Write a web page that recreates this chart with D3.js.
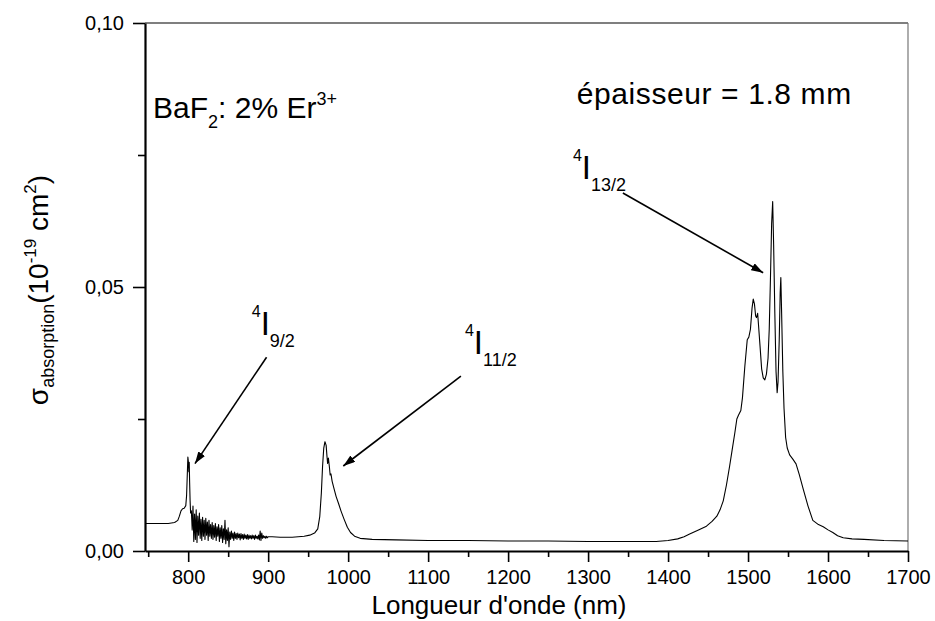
<!DOCTYPE html>
<html>
<head>
<meta charset="utf-8">
<script src="https://cdn.jsdelivr.net/npm/d3@7"></script>
<style>
  body { margin: 0; background: #fff; }
  svg { display: block; font-family: Arial, "Liberation Sans", sans-serif; }
</style>
</head>
<body>
<div id="content"></div>
<script>
// absorption spectrum
var band800Nm = [746, 760, 775, 783, 787, 789, 791, 793, 795, 797, 798, 799, 799.6, 800.2, 800.8, 801.3, 801.8, 802.4, 803];
var band800Sigma = [0.0052, 0.0052, 0.0052, 0.0054, 0.0058, 0.0066, 0.0076, 0.0080, 0.0081, 0.0086, 0.0105, 0.0150, 0.0178, 0.0170, 0.0150, 0.0168, 0.0130, 0.0095, 0.0072];

// noisy part 804..900 nm, one value per nm
var noiseStartNm = 804;
var noiseSigma = [
  0.0076, 0.0040, 0.0085, 0.0018, 0.0070, 0.0022, 0.0078, 0.0016, 0.0066, 0.0030,
  0.0072, 0.0024, 0.0060, 0.0020, 0.0064, 0.0028, 0.0058, 0.0022, 0.0062, 0.0030,
  0.0055, 0.0020, 0.0058, 0.0028, 0.0050, 0.0024, 0.0054, 0.0022, 0.0048, 0.0026,
  0.0052, 0.0020, 0.0046, 0.0028, 0.0050, 0.0018, 0.0044, 0.0024, 0.0048, 0.0016,
  0.0042, 0.0022, 0.0058, 0.0014, 0.0040, 0.0020, 0.0044, 0.0008, 0.0036, 0.0022,
  0.0038, 0.0024, 0.0034, 0.0020, 0.0036, 0.0024, 0.0033, 0.0022, 0.0034, 0.0025,
  0.0032, 0.0021, 0.0033, 0.0024, 0.0031, 0.0022, 0.0032, 0.0024, 0.0030, 0.0023,
  0.0031, 0.0022, 0.0030, 0.0024, 0.0029, 0.0023, 0.0030, 0.0024, 0.0029, 0.0022,
  0.0030, 0.0024, 0.0028, 0.0023, 0.0030, 0.0021, 0.0038, 0.0020, 0.0034, 0.0024,
  0.0029, 0.0025, 0.0028, 0.0024, 0.0028, 0.0025, 0.0027
];

var band980Nm = [905, 915, 930, 945, 952, 958, 962, 964.5, 966.5, 968, 969.5, 971, 972.5, 973.5, 974.3, 975.3, 976.5, 977.5, 978.5, 980, 982, 985, 988, 991, 995, 999, 1003, 1008, 1015, 1030, 1060, 1100, 1150, 1200, 1250, 1300, 1350, 1385, 1400, 1412, 1420];
var band980Sigma = [0.0027, 0.0026, 0.0026, 0.0028, 0.0030, 0.0034, 0.0042, 0.0065, 0.0110, 0.0160, 0.0195, 0.0207, 0.0200, 0.0180, 0.0166, 0.0176, 0.0160, 0.0144, 0.0146, 0.0132, 0.0120, 0.0103, 0.0090, 0.0076, 0.0060, 0.0045, 0.0035, 0.0028, 0.0024, 0.0022, 0.0021, 0.0020, 0.0020, 0.0019, 0.0019, 0.0018, 0.0018, 0.0018, 0.0020, 0.0023, 0.0027];

var band1530Nm = [1427, 1438, 1448, 1455, 1461, 1465, 1469, 1473, 1477, 1480, 1483.5, 1486, 1488, 1491, 1493, 1496, 1499, 1501, 1503, 1505, 1506.5, 1508, 1509.5, 1510.5, 1512, 1513, 1515, 1517, 1519, 1521, 1523, 1525, 1526.5, 1528, 1529.5, 1530.8, 1532, 1533.5, 1535, 1536.4, 1537.5, 1539, 1540.2, 1541, 1542, 1543.5, 1545, 1547, 1549, 1552, 1556, 1560, 1564, 1569, 1575, 1581, 1588, 1594, 1600, 1606, 1612, 1619, 1630, 1645, 1670, 1700];
var band1530Sigma = [0.0032, 0.0040, 0.0047, 0.0056, 0.0066, 0.0078, 0.0095, 0.0125, 0.0161, 0.0190, 0.0224, 0.0250, 0.0257, 0.0266, 0.0290, 0.0350, 0.0400, 0.0405, 0.0420, 0.0460, 0.0477, 0.0468, 0.0445, 0.0442, 0.0450, 0.0430, 0.0388, 0.0345, 0.0328, 0.0324, 0.0335, 0.0365, 0.0420, 0.0515, 0.0620, 0.0662, 0.0580, 0.0450, 0.0340, 0.0300, 0.0320, 0.0400, 0.0490, 0.0518, 0.0450, 0.0340, 0.0270, 0.0215, 0.0195, 0.0182, 0.0174, 0.0165, 0.0145, 0.0117, 0.0085, 0.0058, 0.0050, 0.0046, 0.0040, 0.0035, 0.0029, 0.0025, 0.0023, 0.0022, 0.0020, 0.0019];

var xMajorTicks = [800, 900, 1000, 1100, 1200, 1300, 1400, 1500, 1600, 1700];
var xMinorTicks = [750, 850, 950, 1050, 1150, 1250, 1350, 1450, 1550, 1650];
var yMajorTicks = [0, 0.05, 0.10];
var yMinorTicks = [0.025, 0.075];

// transition labels (sub index), label position, arrow start and tip, in data units
var levelNames = ["9/2", "11/2", "13/2"];
var levelLabelAt = [[879.5, 0.0409], [1146, 0.0373], [1281, 0.0704]];
var arrowFrom = [[898, 0.0367], [1141, 0.0331], [1343.5, 0.0678]];
var arrowTo = [[808.5, 0.01655], [993.9, 0.0161], [1518.9, 0.0527]];

function main() {
	var width = 935, height = 621;
	var margin = { top: 23, right: 27, bottom: 70, left: 145 };

	var svg = d3.select("#content").append("svg")
		.attr("width", width)
		.attr("height", height);

	svg.append("rect").attr("width", width).attr("height", height).attr("fill", "white");

	var x = d3.scaleLinear().domain([746, 1700]).range([margin.left, width - margin.right]);
	var y = d3.scaleLinear().domain([0, 0.10]).range([height - margin.bottom, margin.top]);

	// build the full spectrum
	var spectrum = [];
	band800Nm.forEach(function (w, i) { spectrum.push([w, band800Sigma[i]]); });
	noiseSigma.forEach(function (s, i) { spectrum.push([noiseStartNm + i, s]); });
	band980Nm.forEach(function (w, i) { spectrum.push([w, band980Sigma[i]]); });
	band1530Nm.forEach(function (w, i) { spectrum.push([w, band1530Sigma[i]]); });

	// frame: thin top and right lines
	svg.append("line")
		.attr("x1", x(746)).attr("x2", x(1700))
		.attr("y1", y(0.10)).attr("y2", y(0.10))
		.attr("stroke", "black").attr("stroke-width", 1.2);
	svg.append("line")
		.attr("x1", x(1700)).attr("x2", x(1700))
		.attr("y1", y(0.10)).attr("y2", y(0))
		.attr("stroke", "#777").attr("stroke-width", 1.2);

	var line = d3.line()
		.x(function (d) { return x(d[0]); })
		.y(function (d) { return y(d[1]); });

	svg.append("path")
		.datum(spectrum)
		.attr("fill", "none")
		.attr("stroke", "black")
		.attr("stroke-width", 1.1)
		.attr("stroke-linejoin", "round")
		.attr("d", line);

	var fmt = function (d) { return d3.format(".2f")(d).replace(".", ","); };

	// x axis
	var gx = svg.append("g")
		.attr("transform", "translate(0," + y(0) + ")")
		.call(d3.axisBottom(x).tickValues(xMajorTicks).tickFormat(d3.format("d")).tickSize(11).tickPadding(8).tickSizeOuter(0));
	gx.select(".domain").attr("stroke-width", 2.2);
	gx.selectAll(".tick line").attr("stroke-width", 1.6);
	gx.selectAll("text").attr("font-size", 20).attr("font-family", null);

	var gxm = svg.append("g")
		.attr("transform", "translate(0," + y(0) + ")")
		.call(d3.axisBottom(x).tickValues(xMinorTicks).tickSize(6).tickFormat("").tickSizeOuter(0));
	gxm.select(".domain").remove();
	gxm.selectAll(".tick line").attr("stroke-width", 1.6);

	// y axis
	var gy = svg.append("g")
		.attr("transform", "translate(" + x(746) + ",0)")
		.call(d3.axisLeft(y).tickValues(yMajorTicks).tickFormat(fmt).tickSize(12).tickPadding(9).tickSizeOuter(0));
	gy.select(".domain").attr("stroke-width", 2.2);
	gy.selectAll(".tick line").attr("stroke-width", 1.6);
	gy.selectAll("text").attr("font-size", 20).attr("font-family", null);

	var gym = svg.append("g")
		.attr("transform", "translate(" + x(746) + ",0)")
		.call(d3.axisLeft(y).tickValues(yMinorTicks).tickSize(7).tickFormat("").tickSizeOuter(0));
	gym.select(".domain").remove();
	gym.selectAll(".tick line").attr("stroke-width", 1.6);

	// axis titles
	svg.append("text")
		.attr("x", 499).attr("y", 614)
		.attr("text-anchor", "middle")
		.attr("font-size", 26)
		.text("Longueur d'onde (nm)");

	var yt = svg.append("text")
		.attr("transform", "translate(48,290) rotate(-90)")
		.attr("text-anchor", "middle")
		.attr("font-size", 28);
	yt.append("tspan").text("σ");
	yt.append("tspan").attr("font-size", 18).attr("dy", 6).text("absorption");
	yt.append("tspan").attr("dy", -6).text("(10");
	yt.append("tspan").attr("font-size", 17).attr("dy", -12).text("-19");
	yt.append("tspan").attr("dy", 12).text(" cm");
	yt.append("tspan").attr("font-size", 17).attr("dy", -12).text("2");
	yt.append("tspan").attr("dy", 12).text(")");

	// sample labels
	var t1 = svg.append("text")
		.attr("x", x(756)).attr("y", y(0.0821))
		.attr("font-size", 30);
	t1.append("tspan").text("BaF");
	t1.append("tspan").attr("font-size", 18).attr("dy", 10).text("2");
	t1.append("tspan").attr("dy", -10).text(": 2% Er");
	t1.append("tspan").attr("font-size", 18).attr("dy", -13).text("3+");

	svg.append("text")
		.attr("x", x(1285.75)).attr("y", y(0.0846))
		.attr("font-size", 30)
		.attr("letter-spacing", 0.6)
		.text("épaisseur = 1.8 mm");

	// arrow head
	svg.append("defs").append("marker")
		.attr("id", "head")
		.attr("viewBox", "0 0 12 8")
		.attr("refX", 12).attr("refY", 4)
		.attr("markerWidth", 12).attr("markerHeight", 8)
		.attr("markerUnits", "userSpaceOnUse")
		.attr("orient", "auto")
		.append("path")
		.attr("d", "M0,0 L12,4 L0,8 Z")
		.attr("fill", "black");

	levelNames.forEach(function (name, i) {
		var lt = svg.append("text")
			.attr("x", x(levelLabelAt[i][0])).attr("y", y(levelLabelAt[i][1]))
			.attr("font-size", 33);
		lt.append("tspan").attr("font-size", 16).attr("dy", -18).text("4");
		lt.append("tspan").attr("dy", 18).text("I");
		lt.append("tspan").attr("font-size", 18).attr("dy", 12).text(name);

		svg.append("line")
			.attr("x1", x(arrowFrom[i][0])).attr("y1", y(arrowFrom[i][1]))
			.attr("x2", x(arrowTo[i][0])).attr("y2", y(arrowTo[i][1]))
			.attr("stroke", "black")
			.attr("stroke-width", 1.6)
			.attr("marker-end", "url(#head)");
	});
}

main();
</script>
</body>
</html>
